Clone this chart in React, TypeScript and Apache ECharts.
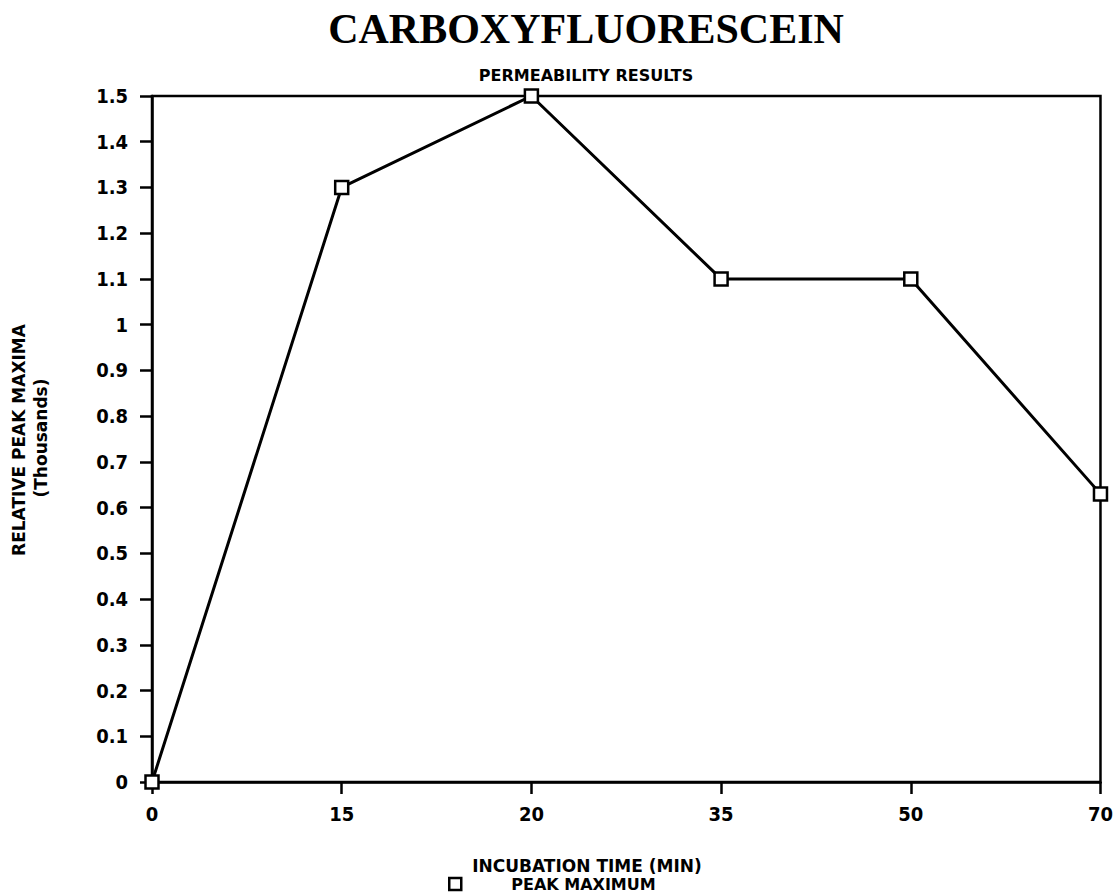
import React, { useEffect, useRef } from "react";
import * as echarts from "echarts";

const categories = ["0", "15", "20", "35", "50", "70"];
const peakMaximum = [0, 1.3, 1.5, 1.1, 1.1, 0.63];
const yTicks = { min: 0, max: 1.5, interval: 0.1 };

const COND = "'DejaVu Sans Condensed', 'DejaVu Sans', sans-serif";
const SANS = "'DejaVu Sans', sans-serif";

export default function App() {
  const ref = useRef<HTMLDivElement>(null);
  useEffect(() => {
    if (!ref.current) return;
    const chart = echarts.init(ref.current, null, { renderer: "svg" });
    chart.setOption({
      animation: false,
      backgroundColor: "#fff",
      title: [
        {
          text: "CARBOXYFLUORESCEIN",
          left: 581,
          textAlign: "center",
          top: 3,
          textStyle: { fontFamily: "'Liberation Serif', serif", fontSize: 42, fontWeight: "bold", color: "#000" },
        },
        {
          text: "PERMEABILITY RESULTS",
          left: 581,
          textAlign: "center",
          top: 62,
          textStyle: { fontFamily: SANS, fontSize: 16, fontWeight: "bold", color: "#000" },
        },
      ],
      legend: {
        data: ["PEAK MAXIMUM"],
        left: 448,
        top: 876,
        padding: 0,
        icon: "rect",
        itemWidth: 12,
        itemHeight: 12,
        itemGap: 10,
        textStyle: { fontFamily: SANS, fontSize: 16, fontWeight: "bold", color: "#000", padding: [0, 0, 0, 45] },
        itemStyle: { color: "#fff", borderColor: "#000", borderWidth: 2.5 },
      },
      graphic: [
        {
          type: "text",
          x: 587,
          y: 866,
          style: { text: "INCUBATION TIME (MIN)", fontFamily: SANS, fontSize: 17, fontWeight: "bold", fill: "#000", align: "center", verticalAlign: "middle" },
        },
        {
          type: "text",
          x: 19,
          y: 440,
          rotation: Math.PI / 2,
          style: { text: "RELATIVE PEAK MAXIMA", fontFamily: SANS, fontSize: 17, fontWeight: "bold", fill: "#000", align: "center", verticalAlign: "middle" },
        },
        {
          type: "text",
          x: 41,
          y: 438,
          rotation: Math.PI / 2,
          style: { text: "(Thousands)", fontFamily: SANS, fontSize: 17, fontWeight: "bold", fill: "#000", align: "center", verticalAlign: "middle" },
        },
      ],
      grid: { left: 152, right: 15, top: 96, bottom: 114, show: true, borderColor: "#000", borderWidth: 2.5 },
      xAxis: {
        type: "category",
        data: categories,
        boundaryGap: false,
        axisLine: { lineStyle: { color: "#000", width: 2.5 } },
        axisTick: { show: true, alignWithLabel: true, length: 12, lineStyle: { color: "#000", width: 2.5 } },
        axisLabel: { margin: 22, fontFamily: COND, fontSize: 20, fontWeight: "bold", color: "#000" },
        splitLine: { show: false },
      },
      yAxis: {
        type: "value",
        min: yTicks.min,
        max: yTicks.max,
        interval: yTicks.interval,
        axisLine: { show: true, lineStyle: { color: "#000", width: 2.5 } },
        axisTick: { show: true, length: 12, lineStyle: { color: "#000", width: 2.5 } },
        axisLabel: {
          margin: 24,
          fontFamily: COND,
          fontSize: 20,
          fontWeight: "bold",
          color: "#000",
          formatter: (v: number) => {
            const r = Math.round(v * 10) / 10;
            return Number.isInteger(r) ? String(r) : r.toFixed(1);
          },
        },
        splitLine: { show: false },
      },
      series: [
        {
          name: "PEAK MAXIMUM",
          type: "line",
          data: peakMaximum,
          symbol: "rect",
          symbolSize: 13,
          lineStyle: { color: "#000", width: 3 },
          itemStyle: { color: "#fff", borderColor: "#000", borderWidth: 2.5 },
        },
      ],
    });
    return () => chart.dispose();
  }, []);
  return <div ref={ref} style={{ position: "fixed", left: 0, top: 0, width: 1116, height: 896 }} />;
}
